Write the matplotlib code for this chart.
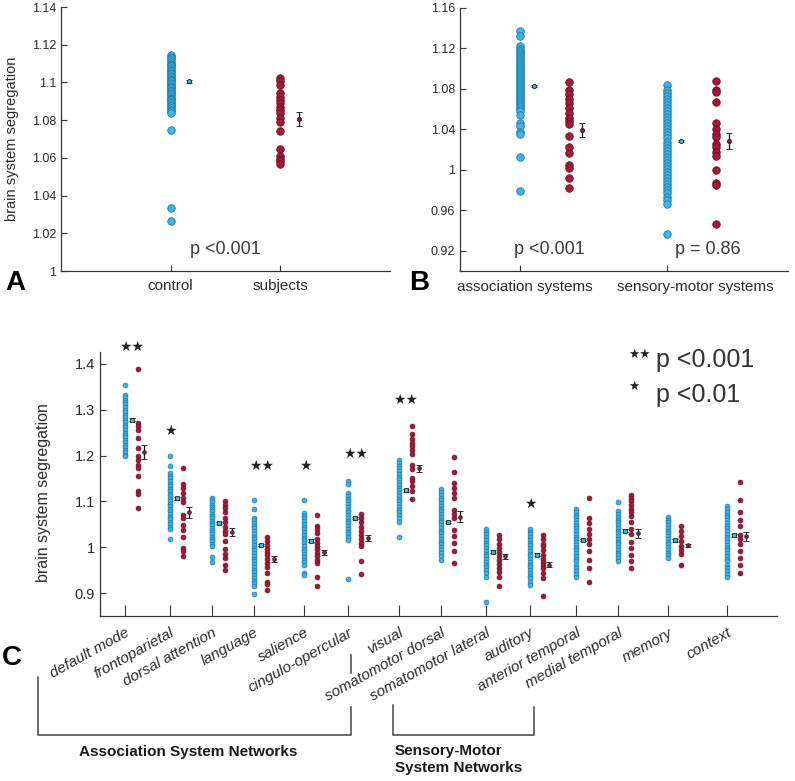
import matplotlib
matplotlib.use('Agg')
import matplotlib.pyplot as plt
import numpy as np
from matplotlib.lines import Line2D

W, H = 795, 781
plt.rcParams['font.family'] = ['Liberation Sans', 'DejaVu Sans']

BLUE, BLUE_E = '#3cb4e6', '#1f7aa8'
RED, RED_E = '#a3193a', '#6e0f25'
TXT = '#2b2b2b'

# ---- panel A: whole-brain segregation ----
groups_A = ['control', 'subjects']
ctrl_A = [1.1147, 1.1135, 1.1128, 1.1118, 1.1110, 1.1100, 1.1092, 1.1085, 1.1075,
          1.1068, 1.1060, 1.1052, 1.1045, 1.1035, 1.1028, 1.1020, 1.1012, 1.1005,
          1.0998, 1.0990, 1.0982, 1.0975, 1.0968, 1.0960, 1.0952, 1.0945, 1.0938,
          1.0930, 1.0920, 1.0912, 1.0905, 1.0898, 1.0890, 1.0882, 1.0875, 1.0865,
          1.0855, 1.0848, 1.0840, 1.0748, 1.0335, 1.0265]
subj_A = [1.1022, 1.1005, 1.0988, 1.0942, 1.0925, 1.0908, 1.0890, 1.0872, 1.0852,
          1.0838, 1.0810, 1.0792, 1.0745, 1.0648, 1.0612, 1.0595, 1.0582, 1.0570]
mean_A = [1.1005, 1.0807]
sem_A = [0.0008, 0.0036]

# ---- panel B: association vs sensory-motor ----
groups_B = ['association systems', 'sensory-motor systems']
assoc_ctrl = [1.1370, 1.1326, 1.1222, 1.1190, 1.1175, 1.1160, 1.1140, 1.1120, 1.1100,
              1.1080, 1.1060, 1.1040, 1.1020, 1.1000, 1.0980, 1.0960, 1.0940, 1.0920,
              1.0900, 1.0880, 1.0860, 1.0840, 1.0820, 1.0800, 1.0780, 1.0760, 1.0740,
              1.0720, 1.0700, 1.0680, 1.0660, 1.0640, 1.0620, 1.0600, 1.0580, 1.0545,
              1.0460, 1.0430, 1.0378, 1.0355, 1.0130, 0.9790]
assoc_subj = [1.0870, 1.0785, 1.0750, 1.0700, 1.0660, 1.0610, 1.0560, 1.0510, 1.0480,
              1.0450, 1.0336, 1.0230, 1.0170, 1.0050, 1.0015, 0.9920, 0.9820]
sm_ctrl = [1.0840, 1.0790, 1.0760, 1.0730, 1.0700, 1.0670, 1.0640, 1.0610, 1.0580,
           1.0550, 1.0520, 1.0490, 1.0460, 1.0430, 1.0400, 1.0370, 1.0340, 1.0310,
           1.0280, 1.0250, 1.0220, 1.0190, 1.0160, 1.0130, 1.0100, 1.0070, 1.0040,
           1.0010, 0.9980, 0.9950, 0.9920, 0.9890, 0.9860, 0.9830, 0.9800, 0.9770,
           0.9730, 0.9700, 0.9665, 0.9370]
sm_subj = [1.0880, 1.0790, 1.0770, 1.0666, 1.0468, 1.0400, 1.0350, 1.0320, 1.0257,
           1.0225, 1.0180, 1.0140, 1.0000, 0.9870, 0.9855, 0.9460]
ctrl_B = [assoc_ctrl, sm_ctrl]
subj_B = [assoc_subj, sm_subj]
ctrl_mean_B = [1.0832, 1.0283]
ctrl_sem_B = [0.0010, 0.0010]
subj_mean_B = [1.0395, 1.0286]
subj_sem_B = [0.0073, 0.0080]
p_B = ['p <0.001', 'p = 0.86']

# ---- panel C: individual networks ----
networks = ['default mode', 'frontoparietal', 'dorsal attention', 'language', 'salience',
            'cingulo-opercular', 'visual', 'somatomotor dorsal', 'somatomotor lateral',
            'auditory', 'anterior temporal', 'medial temporal', 'memory', 'context']
net_x = [0, 0.97, 1.88, 2.79, 3.87, 4.82, 5.92, 6.82, 7.79, 8.74, 9.74, 10.65, 11.73, 13.0]
ctrl_C = [
    [1.355, 1.333, 1.328, 1.322, 1.317, 1.312, 1.306, 1.300, 1.295, 1.289, 1.284, 1.278,
     1.273, 1.267, 1.262, 1.256, 1.250, 1.245, 1.240, 1.234, 1.229, 1.223, 1.218, 1.213,
     1.207, 1.202, 1.198],
    [1.198, 1.178, 1.161, 1.156, 1.150, 1.145, 1.139, 1.134, 1.128, 1.122, 1.117, 1.111,
     1.106, 1.100, 1.095, 1.089, 1.084, 1.078, 1.072, 1.067, 1.061, 1.056, 1.050, 1.044,
     1.039, 1.017],
    [1.108, 1.103, 1.098, 1.093, 1.088, 1.083, 1.078, 1.073, 1.068, 1.063, 1.058, 1.053,
     1.048, 1.043, 1.038, 1.033, 1.028, 1.023, 1.018, 1.013, 1.008, 1.003, 0.978, 0.967],
    [1.102, 1.083, 1.064, 1.059, 1.053, 1.047, 1.041, 1.035, 1.029, 1.023, 1.017, 1.011,
     1.005, 0.999, 0.993, 0.987, 0.981, 0.975, 0.969, 0.963, 0.957, 0.951, 0.945, 0.939,
     0.933, 0.927, 0.921, 0.916, 0.898],
    [1.102, 1.075, 1.069, 1.063, 1.057, 1.051, 1.045, 1.039, 1.033, 1.027, 1.021, 1.015,
     1.009, 1.003, 0.997, 0.991, 0.985, 0.979, 0.973, 0.967, 0.962, 0.944, 0.939],
    [1.144, 1.138, 1.118, 1.112, 1.106, 1.100, 1.094, 1.088, 1.082, 1.076, 1.070, 1.064,
     1.058, 1.052, 1.046, 1.040, 1.034, 1.028, 1.022, 1.016, 0.931],
    [1.190, 1.184, 1.178, 1.172, 1.166, 1.160, 1.154, 1.148, 1.142, 1.136, 1.130, 1.124,
     1.118, 1.112, 1.106, 1.100, 1.094, 1.088, 1.082, 1.076, 1.070, 1.063, 1.056, 1.022],
    [1.126, 1.120, 1.114, 1.108, 1.102, 1.096, 1.090, 1.084, 1.078, 1.072, 1.066, 1.060,
     1.054, 1.048, 1.042, 1.036, 1.030, 1.024, 1.018, 1.012, 1.006, 1.000, 0.994, 0.988,
     0.981, 0.973],
    [1.040, 1.034, 1.028, 1.022, 1.016, 1.010, 1.004, 0.998, 0.992, 0.986, 0.980, 0.974,
     0.968, 0.962, 0.956, 0.950, 0.943, 0.936, 0.880],
    [1.040, 1.034, 1.028, 1.022, 1.016, 1.010, 1.004, 0.998, 0.992, 0.986, 0.980, 0.974,
     0.968, 0.962, 0.956, 0.950, 0.944, 0.938, 0.932, 0.925, 0.918],
    [1.083, 1.077, 1.071, 1.065, 1.059, 1.053, 1.047, 1.041, 1.035, 1.029, 1.023, 1.017,
     1.011, 1.005, 0.999, 0.993, 0.987, 0.981, 0.975, 0.969, 0.962, 0.955, 0.948, 0.942,
     0.936],
    [1.099, 1.078, 1.072, 1.066, 1.060, 1.054, 1.048, 1.042, 1.036, 1.030, 1.024, 1.018,
     1.012, 1.006, 1.000, 0.994, 0.988, 0.982, 0.976, 0.969],
    [1.066, 1.060, 1.054, 1.048, 1.042, 1.036, 1.030, 1.024, 1.018, 1.012, 1.006, 1.000,
     0.994, 0.988, 0.982, 0.976],
    [1.089, 1.083, 1.077, 1.071, 1.065, 1.059, 1.053, 1.047, 1.041, 1.035, 1.029, 1.023,
     1.017, 1.011, 1.005, 0.999, 0.993, 0.987, 0.981, 0.975, 0.969, 0.962, 0.955, 0.948,
     0.942, 0.936],
]
subj_C = [
    [1.389, 1.271, 1.264, 1.255, 1.238, 1.216, 1.198, 1.191, 1.180, 1.172, 1.155, 1.122,
     1.117, 1.086],
    [1.173, 1.139, 1.129, 1.118, 1.107, 1.098, 1.071, 1.064, 1.049, 1.038, 1.023, 0.998,
     0.991, 0.981],
    [1.100, 1.092, 1.085, 1.076, 1.063, 1.054, 1.045, 1.036, 1.029, 1.013, 0.996, 0.986,
     0.976, 0.962, 0.951],
    [1.022, 1.013, 1.004, 0.996, 0.989, 0.982, 0.975, 0.966, 0.957, 0.944, 0.925, 0.920,
     0.906],
    [1.070, 1.046, 1.039, 1.031, 1.018, 1.010, 1.003, 0.996, 0.988, 0.980, 0.972, 0.965,
     0.936, 0.915],
    [1.073, 1.064, 1.054, 1.045, 1.036, 1.027, 1.018, 1.010, 1.003, 0.969, 0.942],
    [1.265, 1.248, 1.236, 1.228, 1.220, 1.213, 1.204, 1.180, 1.171, 1.151, 1.144, 1.133,
     1.122, 1.105],
    [1.197, 1.164, 1.140, 1.129, 1.118, 1.107, 1.082, 1.073, 1.064, 1.038, 1.024, 1.009,
     0.991, 0.965],
    [1.027, 1.017, 1.008, 0.999, 0.990, 0.981, 0.972, 0.963, 0.954, 0.945, 0.936, 0.916],
    [1.027, 1.017, 1.008, 1.002, 0.993, 0.983, 0.975, 0.968, 0.961, 0.954, 0.944, 0.933,
     0.894],
    [1.107, 1.064, 1.053, 1.040, 1.028, 1.017, 1.006, 0.992, 0.973, 0.955, 0.925],
    [1.115, 1.108, 1.100, 1.092, 1.084, 1.076, 1.068, 1.055, 1.040, 1.028, 1.012, 0.998,
     0.984, 0.970, 0.955],
    [1.046, 1.035, 1.025, 1.014, 1.003, 0.993, 0.986, 0.962],
    [1.142, 1.102, 1.077, 1.060, 1.046, 1.026, 1.017, 1.006, 0.992, 0.977, 0.962, 0.944],
]
ctrl_mean_C = [1.278, 1.107, 1.053, 1.005, 1.014, 1.064, 1.124, 1.055, 0.990, 0.984,
               1.016, 1.036, 1.015, 1.026]
ctrl_sem_C = [0.003] * 14
subj_mean_C = [1.208, 1.076, 1.033, 0.974, 0.989, 1.020, 1.172, 1.067, 0.980, 0.962,
               np.nan, 1.030, 1.004, 1.024]
subj_sem_C = [0.016, 0.012, 0.009, 0.007, 0.006, 0.006, 0.008, 0.012, 0.005, 0.005,
              np.nan, 0.009, 0.003, 0.010]
sig_C = ['**', '*', '', '**', '*', '**', '**', '', '', '*', '', '', '', '']
sig_y = [1.436, 1.253, 0, 1.178, 1.178, 1.204, 1.321, 0, 0, 1.095, 0, 0, 0, 0]


def fpx(x, y):
    return x / W, 1 - y / H


def style_axes(ax, fs):
    for s in ['top', 'right']:
        ax.spines[s].set_visible(False)
    for s in ['left', 'bottom']:
        ax.spines[s].set_color('#333333')
        ax.spines[s].set_linewidth(0.9)
    ax.tick_params(direction='in', colors='#333333', labelcolor=TXT, labelsize=fs,
                   length=4, width=0.8)


def fmt(v):
    return ('%.2f' % v).rstrip('0').rstrip('.')


def column(ax, x, vals, fc, ec, ms, mew=0.6):
    ax.plot([x] * len(vals), vals, 'o', ms=ms, mfc=fc, mec=ec, mew=mew, clip_on=False)


def mean_bar(ax, x, m, s, fc, ms):
    ax.errorbar([x], [m], yerr=[s], fmt='o', ms=ms, mfc=fc, mec='#222222', mew=0.6,
                ecolor='#111111', elinewidth=0.9, capsize=2.5, capthick=0.9)


fig = plt.figure(figsize=(W / 100, H / 100), dpi=100)

# ---------- A ----------
axA = fig.add_axes([61 / W, 1 - 271 / H, 329 / W, 264 / H])
style_axes(axA, 9)
xa = [1, 2]
column(axA, xa[0], ctrl_A, BLUE, BLUE_E, 5.4)
column(axA, xa[1], subj_A, RED, RED_E, 5.4)
mean_bar(axA, xa[0] + 0.17, mean_A[0], sem_A[0], BLUE, 3)
mean_bar(axA, xa[1] + 0.17, mean_A[1], sem_A[1], RED, 3)
axA.set_xlim(0, 3)
axA.set_ylim(1.0, 1.14)
yt = [1.0, 1.02, 1.04, 1.06, 1.08, 1.1, 1.12, 1.14]
axA.set_yticks(yt)
axA.set_yticklabels([fmt(v) for v in yt])
axA.set_xticks(xa)
axA.set_xticklabels(groups_A, fontsize=11)
axA.tick_params(axis='x', pad=6)
axA.set_ylabel('brain system segregation', fontsize=10.5, color=TXT)
axA.yaxis.set_label_coords(-0.127, 0.5)
axA.text(0.5, 0.08, 'p <0.001', transform=axA.transAxes, ha='center', va='center',
         fontsize=13, color='#3a3a3a')

# ---------- B ----------
axB = fig.add_axes([460 / W, 1 - 271 / H, 328 / W, 263 / H])
style_axes(axB, 9)
xb = [1, 2]
for i in range(2):
    column(axB, xb[i], ctrl_B[i], BLUE, BLUE_E, 5.4)
    column(axB, xb[i] + 0.33, subj_B[i], RED, RED_E, 5.4)
    mean_bar(axB, xb[i] + 0.09, ctrl_mean_B[i], ctrl_sem_B[i], BLUE, 3)
    mean_bar(axB, xb[i] + 0.42, subj_mean_B[i], subj_sem_B[i], RED, 3)
axB.set_xlim(0.59, 2.82)
axB.set_ylim(0.90, 1.16)
yt = [0.92, 0.96, 1.0, 1.04, 1.08, 1.12, 1.16]
axB.set_yticks(yt)
axB.set_yticklabels([fmt(v) for v in yt])
axB.set_xticks(xb)
axB.set_xticklabels([])
for xl, name in zip([1.03, 2.19], groups_B):
    axB.text(xl, -0.035, name, transform=axB.get_xaxis_transform(), ha='center',
             va='top', fontsize=11, color=TXT)
for px_, txt in zip([0.271, 0.756], p_B):
    axB.text(px_, 0.08, txt, transform=axB.transAxes, ha='center', va='center',
             fontsize=13, color='#3a3a3a')

# ---------- C ----------
axC = fig.add_axes([100 / W, 1 - 616 / H, 677 / W, 264 / H])
style_axes(axC, 10.5)
axC.tick_params(axis='x', length=8)
for i in range(len(networks)):
    x0 = net_x[i]
    column(axC, x0, ctrl_C[i], BLUE, BLUE_E, 3.5, 0.5)
    column(axC, x0 + 0.28, subj_C[i], RED, RED_E, 3.5, 0.5)
    axC.errorbar([x0 + 0.15], [ctrl_mean_C[i]], yerr=[ctrl_sem_C[i]], fmt='s', ms=2.5,
                 mfc=BLUE, mec='#222222', mew=0.6, ecolor='#111111', elinewidth=0.8,
                 capsize=2, capthick=0.8)
    if not np.isnan(subj_mean_C[i]):
        mean_bar(axC, x0 + 0.42, subj_mean_C[i], subj_sem_C[i], RED, 2.6)
    if sig_C[i]:
        axC.text(x0 - 0.12, sig_y[i], '\u2605' * len(sig_C[i]), ha='left', va='center',
                 fontsize=10, color='#222222', family='DejaVu Sans', clip_on=False)
axC.set_xlim(-0.54, 14.08)
axC.set_ylim(0.85, 1.426)
yt = [0.9, 1.0, 1.1, 1.2, 1.3, 1.4]
axC.set_yticks(yt)
axC.set_yticklabels([fmt(v) for v in yt])
axC.set_xticks(net_x)
axC.set_xticklabels(networks, rotation=29, ha='right', va='top', rotation_mode='anchor',
                    style='italic', fontsize=11)
axC.tick_params(axis='x', pad=7)
axC.set_ylabel('brain system segregation', fontsize=11.5, color=TXT)
axC.yaxis.set_label_coords(-0.072, 0.466)

# significance key
fig.text(*fpx(628, 354), '\u2605\u2605', fontsize=9, family='DejaVu Sans',
         color='#222222', ha='left', va='center')
fig.text(*fpx(628, 386), '\u2605', fontsize=9, family='DejaVu Sans',
         color='#222222', ha='left', va='center')
fig.text(*fpx(656, 360), 'p <0.001', fontsize=18, color='#333333', ha='left', va='center')
fig.text(*fpx(656, 395), 'p <0.01', fontsize=18, color='#333333', ha='left', va='center')

# panel letters
for lab, (x, y) in zip(['A', 'B', 'C'], [(5, 283), (409, 283), (2, 658)]):
    fig.text(*fpx(x, y), lab, fontsize=20, fontweight='bold', color='black',
             ha='left', va='center')


# brackets under panel C
def fig_line(xs, ys):
    fig.add_artist(Line2D([x / W for x in xs], [1 - y / H for y in ys],
                          color='#444444', lw=1.1))


fig_line([38, 38, 351, 351], [677, 735, 735, 707])
fig_line([351, 351], [655, 673])
fig_line([393, 393, 534, 534], [705, 735, 735, 707])
fig.text(*fpx(188, 752), 'Association System Networks', fontsize=11, fontweight='bold',
         color='#1a1a1a', ha='center', va='center')
fig.text(*fpx(395, 744), 'Sensory-Motor\nSystem Networks', fontsize=11,
         fontweight='bold', color='#1a1a1a', ha='left', va='top', linespacing=1.25)

fig.savefig('out.png', dpi=100)
